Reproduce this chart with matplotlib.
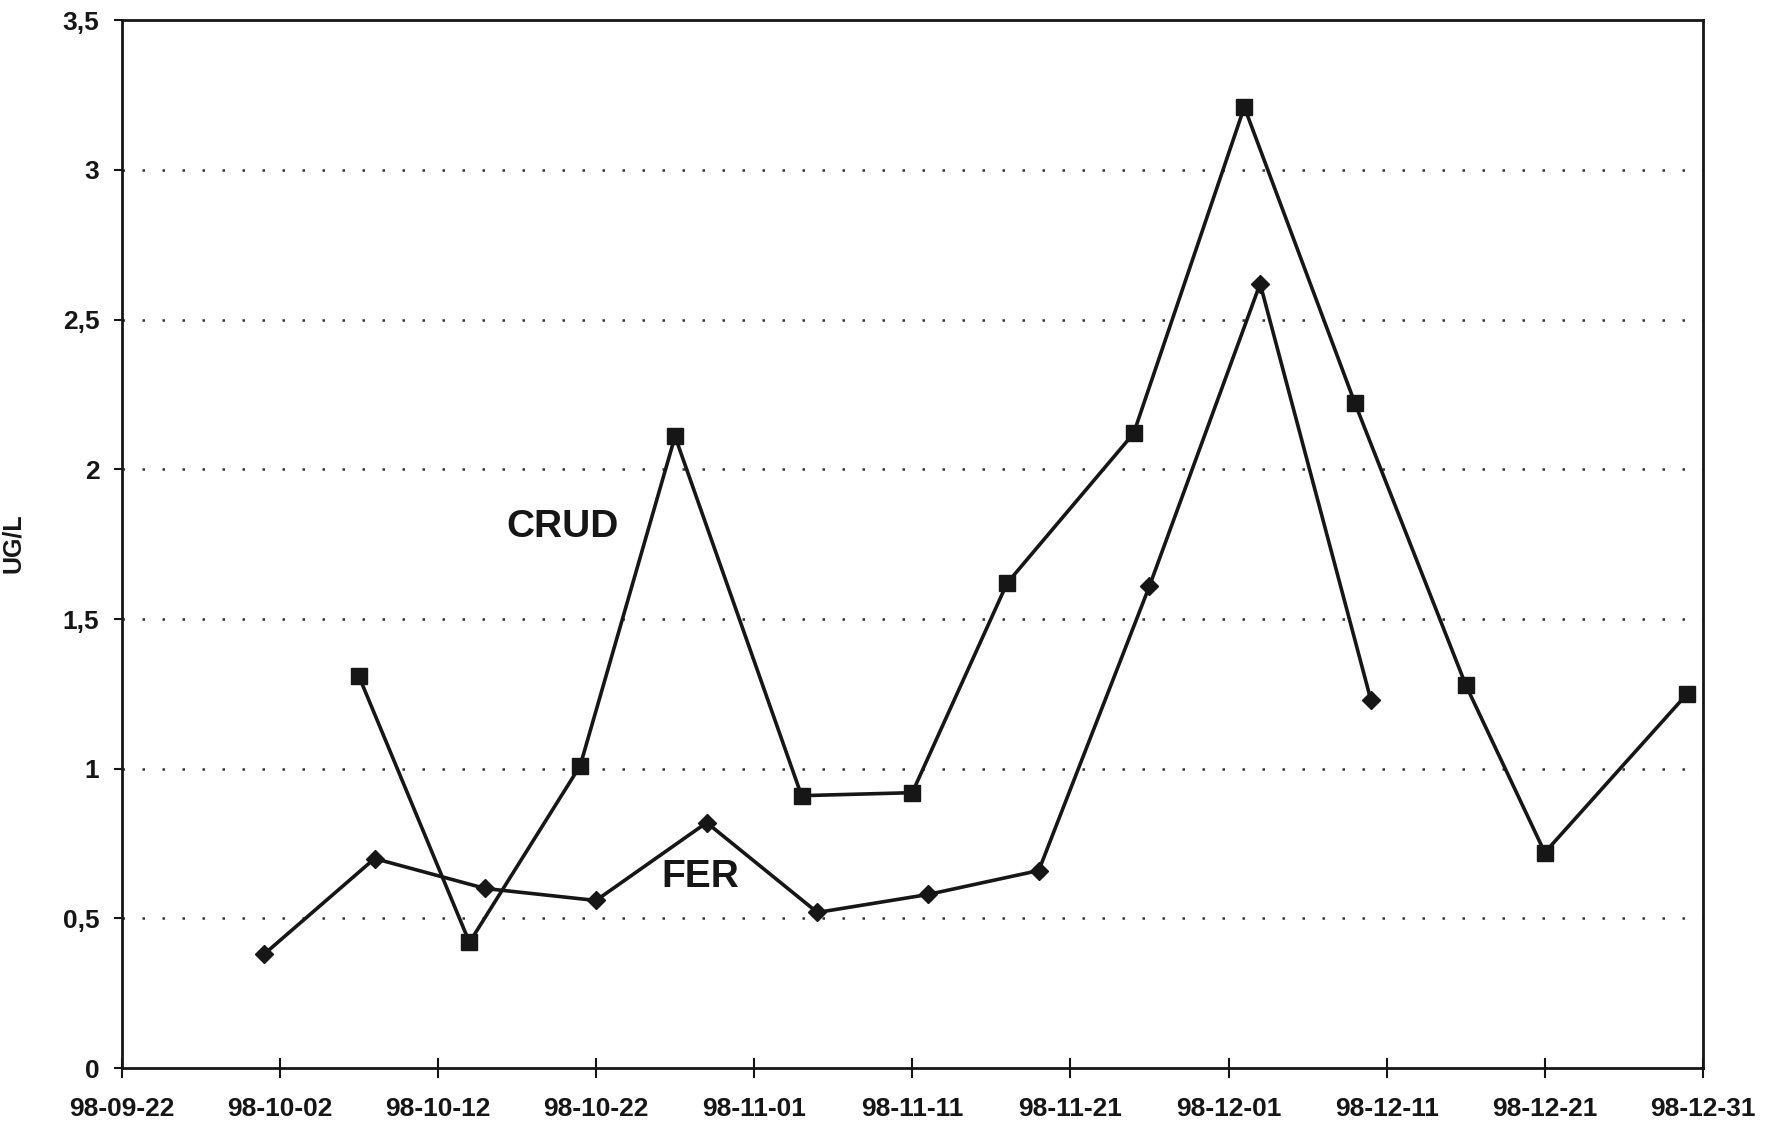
import datetime as dt
import matplotlib
matplotlib.use("Agg")
import matplotlib.pyplot as plt
import matplotlib.dates as mdates
from matplotlib.ticker import FuncFormatter

# CRUD and FER series (UG/L)
crud_dates = ["1998-10-07", "1998-10-14", "1998-10-21", "1998-10-27", "1998-11-04",
              "1998-11-11", "1998-11-17", "1998-11-25", "1998-12-02", "1998-12-09",
              "1998-12-16", "1998-12-21", "1998-12-30"]
crud_values = [1.31, 0.42, 1.01, 2.11, 0.91, 0.92, 1.62, 2.12, 3.21, 2.22, 1.28, 0.72, 1.25]

fer_dates = ["1998-10-01", "1998-10-08", "1998-10-15", "1998-10-22", "1998-10-29",
             "1998-11-05", "1998-11-12", "1998-11-19", "1998-11-26", "1998-12-03",
             "1998-12-10"]
fer_values = [0.38, 0.70, 0.60, 0.56, 0.82, 0.52, 0.58, 0.66, 1.61, 2.62, 1.23]

y_ticks = [0, 0.5, 1, 1.5, 2, 2.5, 3, 3.5]

def to_dates(lst):
    return [dt.datetime.strptime(s, "%Y-%m-%d") for s in lst]

plt.rcParams['font.family'] = ['Liberation Sans', 'DejaVu Sans']
plt.rcParams['font.weight'] = 'bold'

fig = plt.figure(figsize=(17.8, 11.22), dpi=100)
ax = fig.add_axes([0.0683, 0.048, 0.8884, 0.934])

ink = "#161616"
ax.plot(to_dates(crud_dates), crud_values, color=ink, lw=2.6,
        marker='s', markersize=12, markerfacecolor=ink, markeredgecolor=ink)
ax.plot(to_dates(fer_dates), fer_values, color=ink, lw=2.6,
        marker='D', markersize=9, markerfacecolor=ink, markeredgecolor=ink)

start = dt.datetime(1998, 9, 22)
end = dt.datetime(1998, 12, 31)
ax.set_xlim(start, end)
ax.set_ylim(0, 3.5)

x_ticks = [start + dt.timedelta(days=10 * i) for i in range(11)]
ax.set_xticks(x_ticks)
ax.xaxis.set_major_formatter(mdates.DateFormatter("%y-%m-%d"))
ax.set_yticks(y_ticks)
ax.yaxis.set_major_formatter(FuncFormatter(lambda v, p: f"{v:g}".replace(".", ",")))

ax.tick_params(axis='x', direction='inout', length=14, width=1.5, pad=14,
               labelsize=19, colors=ink)
ax.tick_params(axis='y', direction='out', length=6, width=1.5, pad=10,
               labelsize=19, colors=ink)

for side in ax.spines.values():
    side.set_linewidth(2)
    side.set_color(ink)

# dotted horizontal gridlines
for v in y_ticks[1:-1]:
    ax.axhline(v, color="#333333", lw=1.8, linestyle=(0, (1, 7)), zorder=0)

ax.set_ylabel("UG/L", fontsize=18, fontweight='bold', color=ink)
ax.yaxis.set_label_coords(-0.061, 0.501)

ax.text(0.279, 0.516, "CRUD", transform=ax.transAxes, fontsize=28,
        fontweight='bold', ha='center', va='center', color=ink)
ax.text(0.366, 0.182, "FER", transform=ax.transAxes, fontsize=28,
        fontweight='bold', ha='center', va='center', color=ink)

fig.savefig("out.png", dpi=100, facecolor='white')
